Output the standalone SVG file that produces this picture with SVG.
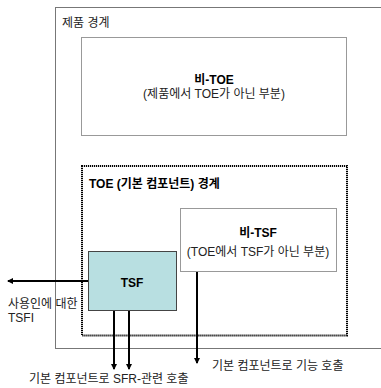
<svg xmlns="http://www.w3.org/2000/svg" width="381" height="388" viewBox="0 0 381 388">
<defs>
<style>
text{font-family:"Liberation Sans","Noto Sans CJK KR",sans-serif;font-size:12px;fill:#222}
.b{font-weight:bold;fill:#000}
.c{text-anchor:middle}
.box{fill:#fff;stroke:#999;stroke-width:1}
.arr{stroke:#000;stroke-width:2;fill:none;marker-end:url(#ah)}
</style>
<marker id="ah" viewBox="0 0 6 6" refX="5" refY="3" markerWidth="3" markerHeight="3" orient="auto" markerUnits="strokeWidth">
<path d="M0,0 L6,3 L0,6 z" fill="#000"/>
</marker>
</defs>
<rect width="381" height="388" fill="#fff"/>
<g id="product-boundary">
<rect x="55.5" y="7.5" width="340" height="341" fill="none" stroke="#777" stroke-width="1"/>
<text x="62" y="27">제품 경계</text>
</g>
<g id="non-toe">
<rect class="box" x="81.5" y="37.5" width="265" height="98"/>
<text class="b c" x="214" y="84">비-TOE</text>
<text class="c" x="214" y="98">(제품에서 TOE가 아닌 부분)</text>
</g>
<g id="toe-boundary">
<rect x="82" y="166" width="265" height="169.5" fill="none" stroke="#000" stroke-width="2" stroke-dasharray="1.2 0.8"/>
<text class="b" x="89" y="188">TOE (기본 컴포넌트) 경계</text>
</g>
<g id="non-tsf">
<rect class="box" x="180.5" y="208.5" width="156" height="63" stroke="#888"/>
<text class="b c" x="258" y="237">비-TSF</text>
<text class="c" x="258" y="256">(TOE에서 TSF가 아닌 부분)</text>
</g>
<g id="tsf">
<rect x="88.5" y="251.5" width="88" height="59" fill="#B8DFE1" stroke="#444" stroke-width="1"/>
<text class="b c" x="132" y="287">TSF</text>
</g>
<g id="connectors">
<line class="arr" x1="88" y1="281" x2="8" y2="281"/>
<line class="arr" x1="114" y1="311" x2="114" y2="369"/>
<line class="arr" x1="129" y1="311" x2="129" y2="369"/>
<line class="arr" x1="197" y1="272" x2="197" y2="363"/>
</g>
<g id="labels">
<text x="8" y="308">사용인에 대한</text>
<text x="8" y="322">TSFI</text>
<text x="29" y="383">기본 컴포넌트로 SFR-관련 호출</text>
<text x="212" y="370">기본 컴포넌트로 기능 호출</text>
</g>
</svg>
